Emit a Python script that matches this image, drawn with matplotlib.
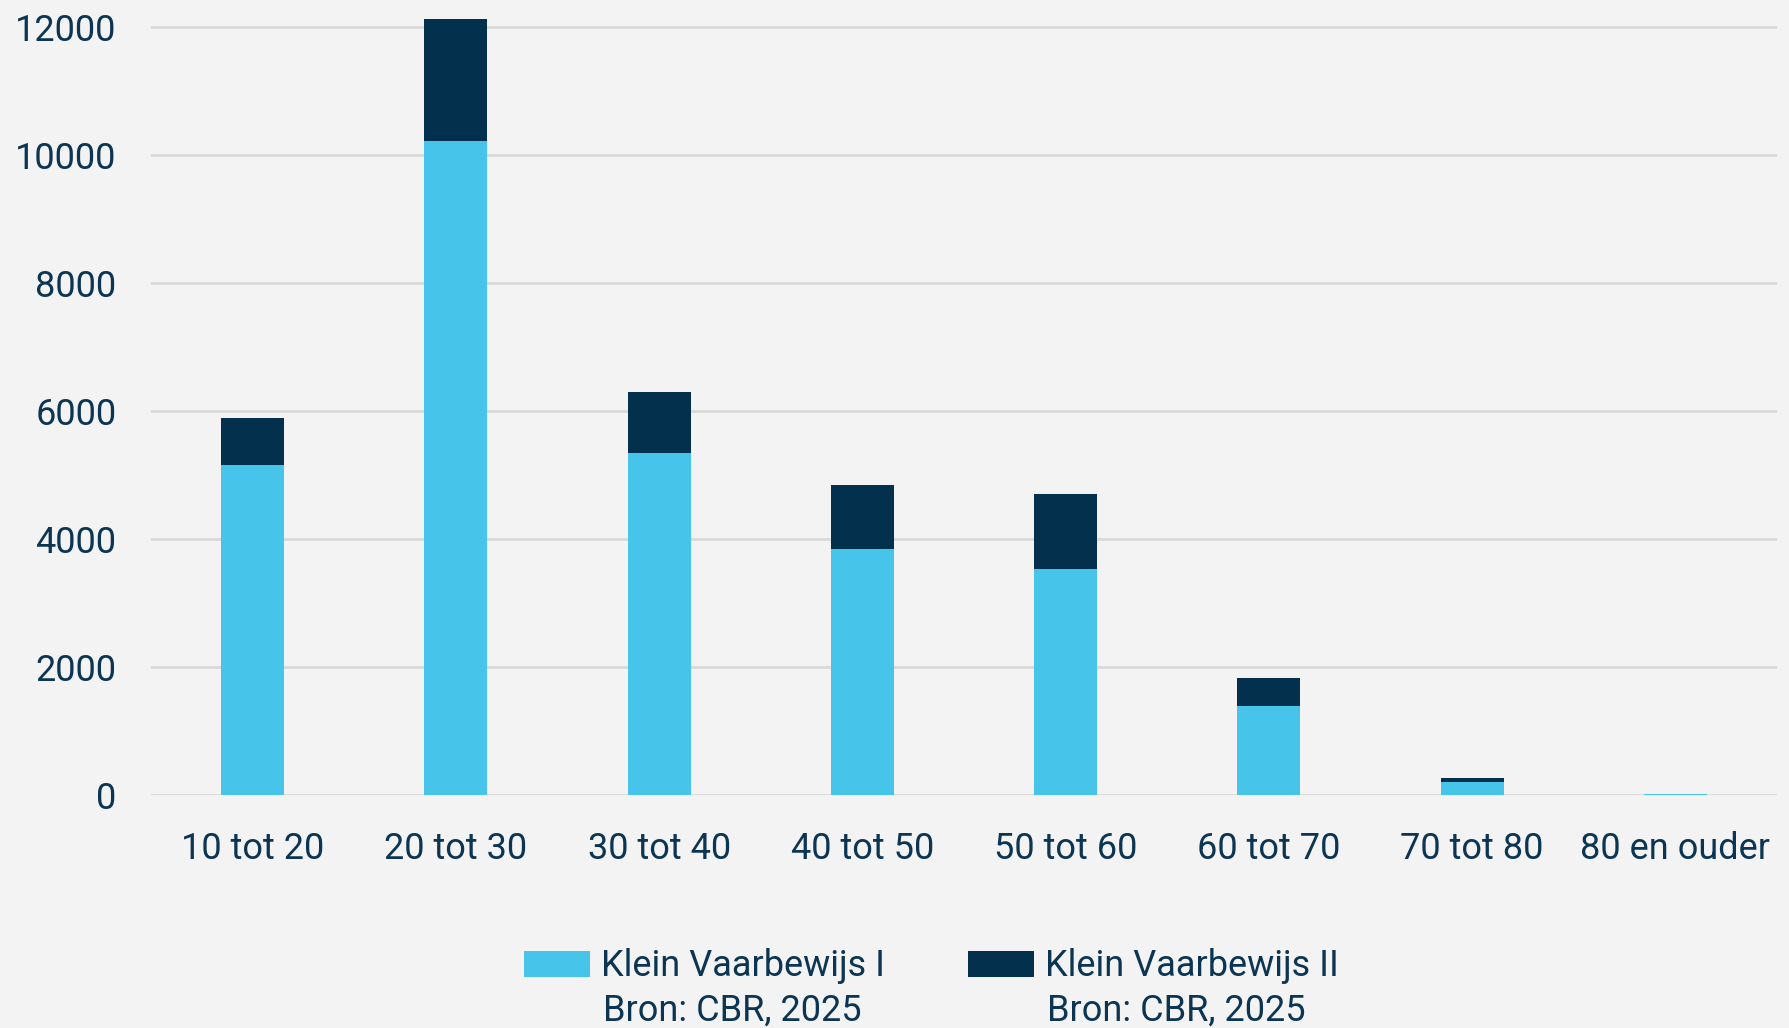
import numpy as np
import matplotlib.pyplot as plt

# leeftijdsgroepen en aantallen
categories = ['10 tot 20', '20 tot 30', '30 tot 40', '40 tot 50',
              '50 tot 60', '60 tot 70', '70 tot 80', '80 en ouder']
kvb1 = [5150, 10210, 5340, 3835, 3520, 1385, 205, 5]
kvb2 = [730, 1910, 950, 1010, 1175, 435, 50, 2]
yticks = [0, 2000, 4000, 6000, 8000, 10000, 12000]
series_names = ['Klein Vaarbewijs I', 'Klein Vaarbewijs II']
source = 'Bron: CBR, 2025'

light = '#47C4E9'
dark = '#02304D'
txt = '#0B3553'
bg = '#F3F3F3'

plt.rcParams['font.family'] = ['Roboto', 'DejaVu Sans']

fig = plt.figure(figsize=(17.89, 10.28), dpi=100, facecolor=bg)
ax = fig.add_axes([0.0844, 0.227, 0.9089, 0.772])
ax.set_facecolor(bg)

x = np.arange(len(categories))
b1 = ax.bar(x, kvb1, width=0.31, color=light, zorder=3)
b2 = ax.bar(x, kvb2, bottom=kvb1, width=0.31, color=dark, zorder=3)

ax.set_xlim(-0.5, len(categories) - 0.5)
ax.set_ylim(0, 12400)
ax.set_yticks(yticks)
ax.set_xticks(x)
ax.set_xticklabels(categories)
ax.grid(axis='y', color='#D9D9D9', linewidth=2, zorder=0)
for s in ax.spines.values():
    s.set_visible(False)
ax.tick_params(axis='both', length=0, labelsize=26, labelcolor=txt)
ax.tick_params(axis='y', pad=25)
ax.tick_params(axis='x', pad=26)

leg = fig.legend([b1, b2], series_names, loc='center left',
                 bbox_to_anchor=(0.2927, 0.060), ncol=2, frameon=False,
                 fontsize=26, borderpad=0, borderaxespad=0,
                 handlelength=1.83, handleheight=0.74,
                 handletextpad=0.31, columnspacing=2.3, labelcolor=txt)

# tweede regel onder elk legendalabel
fig.canvas.draw()
for t in leg.get_texts():
    bb = t.get_window_extent()
    fig.text(bb.x0 / fig.bbox.width + 0.001, 0.0167, source, fontsize=26,
             color=txt, va='center', ha='left')

fig.savefig('out.png', dpi=100, facecolor=bg)
